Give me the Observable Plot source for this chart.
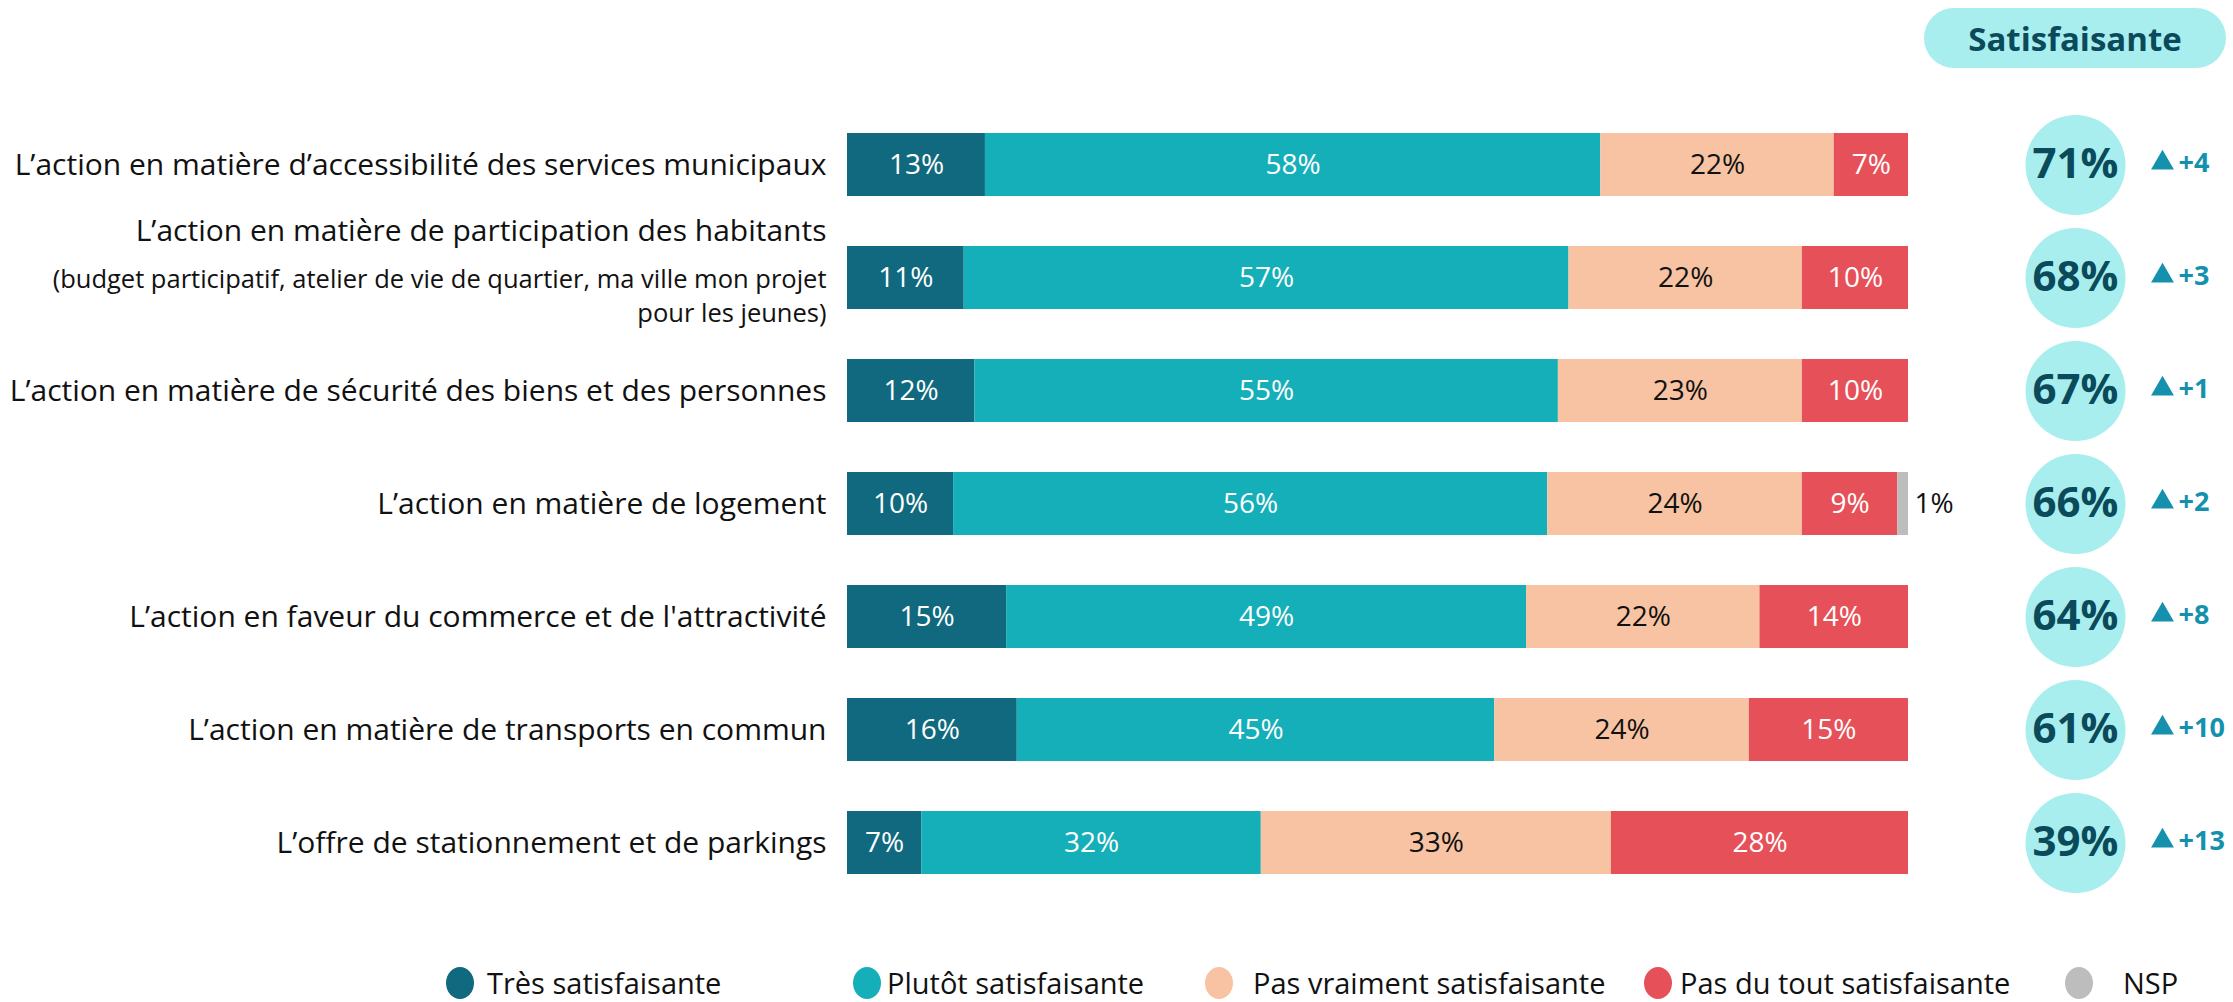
<!DOCTYPE html>
<html>
<head>
<meta charset="utf-8">
<script src="https://cdn.jsdelivr.net/npm/d3@7"></script>
<script src="https://cdn.jsdelivr.net/npm/@observablehq/plot@0.6"></script>
<style>
  html, body { margin: 0; padding: 0; background: #fff; }
  #chart { width: 2233px; }
  #legend { position: relative; width: 2233px; height: 52px; font-family: 'Open Sans', sans-serif; }
  .sw { position: absolute; top: 17px; width: 28px; height: 32px; border-radius: 50%; }
  .lab { position: absolute; top: 14px; height: 38px; line-height: 38px; font-size: 29px; color: #111; white-space: nowrap; }
</style>
</head>
<body>
<div id="chart"></div>
<div id="legend"></div>
<script>
const categories = [
  "L’action en matière d’accessibilité des services municipaux",
  "L’action en matière de participation des habitants",
  "L’action en matière de sécurité des biens et des personnes",
  "L’action en matière de logement",
  "L’action en faveur du commerce et de l'attractivité",
  "L’action en matière de transports en commun",
  "L’offre de stationnement et de parkings"
];
const subLabels = [
  "",
  "(budget participatif, atelier de vie de quartier, ma ville mon projet\npour les jeunes)",
  "", "", "", "", ""
];
const series = ["Très satisfaisante", "Plutôt satisfaisante", "Pas vraiment satisfaisante", "Pas du tout satisfaisante", "NSP"];
const colors = ["#10697e", "#14afb8", "#f7c3a2", "#e65159", "#bdbdbd"];
const tres        = [13, 11, 12, 10, 15, 16, 7];
const plutot      = [58, 57, 55, 56, 49, 45, 32];
const pasVraiment = [22, 22, 23, 24, 22, 24, 33];
const pasDuTout   = [7, 10, 10, 9, 14, 15, 28];
const nsp         = [0, 0, 0, 1, 0, 0, 0];
const satisfaisante = [71, 68, 67, 66, 64, 61, 39];
const evolution     = [4, 3, 1, 2, 8, 10, 13];
const headerLabel = "Satisfaisante";

const seriesValues = [tres, plutot, pasVraiment, pasDuTout, nsp];
const table = [];
categories.forEach((cat, i) => {
  series.forEach((s, j) => table.push({cat, series: s, value: seriesValues[j][i]}));
});
const rows = categories.map((cat, i) => ({cat, sub: subLabels[i], sat: satisfaisante[i], evo: evolution[i]}));

const whiteText = new Set(["Très satisfaisante", "Plutôt satisfaisante", "Pas du tout satisfaisante"]);
const FONT = "'Open Sans', sans-serif";
const BUB_DX = 167, TRI_DX = 254, EVO_DX = 270;

const plot = Plot.plot({
  width: 2233,
  height: 950,
  marginLeft: 847,
  marginRight: 325,
  marginTop: 107,
  marginBottom: 50,
  style: {fontFamily: FONT, background: "#fff"},
  x: {domain: [0, 100], axis: null},
  y: {domain: categories, paddingInner: 0.444, paddingOuter: 0.222, axis: null},
  color: {domain: series, range: colors},
  marks: [
    Plot.barX(table, Plot.stackX({x: "value", y: "cat", fill: "series", order: series})),
    Plot.text(table, Plot.stackX({x: "value", y: "cat", z: "series", order: series,
      text: d => whiteText.has(d.series) && d.value > 0 ? d.value + "%" : null,
      fill: "white", fontSize: 28})),
    Plot.text(table, Plot.stackX({x: "value", y: "cat", z: "series", order: series,
      text: d => d.series === "Pas vraiment satisfaisante" && d.value > 0 ? d.value + "%" : null,
      fill: "#111", fontSize: 28})),
    Plot.text(table, Plot.stackX2({x: "value", y: "cat", z: "series", order: series,
      text: d => d.series === "NSP" && d.value > 0 ? d.value + "%" : null,
      fill: "#111", fontSize: 28, textAnchor: "start", dx: 6})),
    // category labels
    Plot.text(rows, {x: 0, y: "cat", text: d => d.sub ? null : d.cat, textAnchor: "end", dx: -21, fontSize: 30, fill: "#111"}),
    Plot.text(rows, {x: 0, y: "cat", text: d => d.sub ? d.cat : null, textAnchor: "end", dx: -21, dy: -47, fontSize: 30, fill: "#111"}),
    Plot.text(rows, {x: 0, y: "cat", text: d => d.sub ? d.sub : null, textAnchor: "end", dx: -21, dy: 16, fontSize: 25.5, lineHeight: 1.36, fill: "#111"}),
    // satisfaction bubbles
    Plot.dot(rows, {x: 100, y: "cat", dx: BUB_DX, r: 50, fill: "#a8eeee"}),
    Plot.text(rows, {x: 100, y: "cat", dx: BUB_DX, text: d => d.sat + "%", fontSize: 42, fontWeight: "bold", fill: "#0b4a5a"}),
    // evolution
    Plot.dot(rows, {x: 100, y: "cat", dx: TRI_DX, dy: -2, symbol: "triangle", r: 8.5, fill: "#1591ae"}),
    Plot.text(rows, {x: 100, y: "cat", dx: EVO_DX, dy: -2, text: d => "+" + d.evo, textAnchor: "start", fontSize: 27, fontWeight: "bold", fill: "#1591ae"})
  ]
});

// header pill above the bubble column
const cx = plot.scale("x").apply(100) + BUB_DX;
const svg = d3.select(plot);
svg.append("rect").attr("x", cx - 151).attr("y", 8).attr("width", 302).attr("height", 60)
  .attr("rx", 30).attr("fill", "#a8eeee");
svg.append("text").attr("x", cx).attr("y", 38).attr("text-anchor", "middle").attr("dominant-baseline", "central")
  .attr("font-family", FONT).attr("font-size", 33).attr("font-weight", "bold").attr("fill", "#0b4a5a")
  .text(headerLabel);

document.getElementById("chart").appendChild(plot);

// legend
const swatchCenters = [460, 867, 1219, 1658, 2079];
const labelStarts = [487, 887, 1253, 1680, 2123];
const legend = document.getElementById("legend");
series.forEach((s, i) => {
  const sw = document.createElement("div");
  sw.className = "sw";
  sw.style.left = (swatchCenters[i] - 14) + "px";
  sw.style.background = colors[i];
  const lab = document.createElement("div");
  lab.className = "lab";
  lab.style.left = labelStarts[i] + "px";
  lab.textContent = s;
  legend.appendChild(sw);
  legend.appendChild(lab);
});
</script>
</body>
</html>
